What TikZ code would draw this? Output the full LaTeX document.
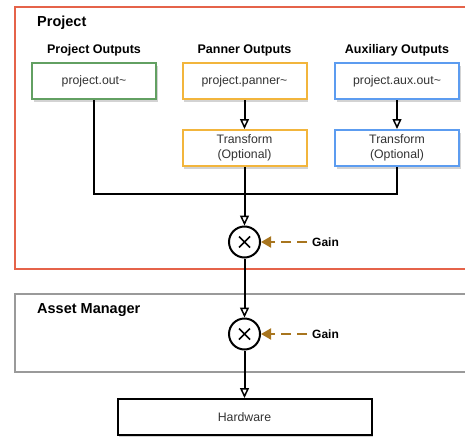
\documentclass[tikz,border=0pt]{standalone}
\usepackage{fontspec}
\setmainfont{Liberation Sans}
\usepackage{tikz}
\usetikzlibrary{arrows.meta,shadows,positioning}

\definecolor{projred}{HTML}{E5634A}
\definecolor{mgrgray}{HTML}{9A9A9A}
\definecolor{outgreen}{HTML}{62A062}
\definecolor{panorange}{HTML}{F2B53C}
\definecolor{auxblue}{HTML}{5C9CF0}
\definecolor{gainbrown}{HTML}{A8751E}
\definecolor{boxtext}{HTML}{333333}

\begin{document}
\begin{tikzpicture}[x=1pt,y=-1pt,
    outbox/.style={draw,line width=2pt,fill=white,minimum width=124pt,minimum height=36pt,
      align=center,text=boxtext,font=\fontsize{12.3}{15}\selectfont,
      drop shadow={shadow xshift=1.5pt,shadow yshift=-3pt,opacity=0.35}},
    heading/.style={font=\fontsize{12.5}{15}\selectfont\bfseries},
    frametitle/.style={anchor=west,inner sep=2pt,font=\fontsize{14.5}{17}\selectfont\bfseries},
    mult/.style={circle,draw,line width=2pt,fill=white,minimum size=31pt,inner sep=0pt,
      path picture={\draw[line width=1.5pt] (path picture bounding box.center) +(-5.5pt,-5.5pt) -- +(5.5pt,5.5pt)
        (path picture bounding box.center) +(-5.5pt,5.5pt) -- +(5.5pt,-5.5pt);}},
    flow/.style={line width=2pt,-{Triangle[open,length=10pt,width=9pt,line width=1.5pt]}},
    gainarrow/.style={gainbrown,line width=2pt,dash pattern=on 10pt off 6pt,shorten <=4pt,
      -{Triangle[length=10pt,width=11pt]}},
    gainlbl/.style={anchor=west,inner sep=1pt,font=\fontsize{12}{14}\selectfont\bfseries}]
  \clip (0,0) rectangle (465,436);

  \draw[projred,line width=2pt] (15,7) rectangle (470,269);
  \node[frametitle] (projtitle) at (35,23) {Project};
  \draw[mgrgray,line width=2pt] (15,294) rectangle (470,372);
  \node[frametitle] (mgrtitle) at (35,310) {Asset Manager};

  \node[heading] (projhead) at (94,50) {Project Outputs};
  \node[heading] (panhead) at (244.5,50) {Panner Outputs};
  \node[heading] (auxhead) at (397,50) {Auxiliary Outputs};

  \node[outbox,draw=outgreen] (projout) at (94,81) {project.out\textasciitilde};
  \node[outbox,draw=panorange] (panout) at (244.5,81) {project.panner\textasciitilde};
  \node[outbox,draw=auxblue] (auxout) at (397,81) {project.aux.out\textasciitilde};
  \node[outbox,draw=panorange] (pantr) at (244.5,148) {Transform\\(Optional)};
  \node[outbox,draw=auxblue] (auxtr) at (397,148) {Transform\\(Optional)};

  \coordinate (merge) at (244.5,194);
  \node[mult] (mult1) at (244.5,242) {};
  \node[mult] (mult2) at (244.5,334) {};
  \node[outbox,draw=black,minimum width=254pt] (hw) at (244.5,417) {Hardware};

  \node[gainlbl] (gain1) at (311,242) {Gain};
  \node[gainlbl] (gain2) at (311,334) {Gain};

  \draw[flow] (panout) -- (pantr);
  \draw[flow] (auxout) -- (auxtr);
  \draw[line width=2pt] (projout.south) |- (merge);
  \draw[line width=2pt] (auxtr.south) |- (merge);
  \draw[flow] (pantr.south) -- (mult1.north);
  \draw[flow] (mult1) -- (mult2);
  \draw[flow] (mult2) -- (hw);
  \draw[gainarrow] (gain1.west) -- (mult1.east);
  \draw[gainarrow] (gain2.west) -- (mult2.east);
\end{tikzpicture}
\end{document}
